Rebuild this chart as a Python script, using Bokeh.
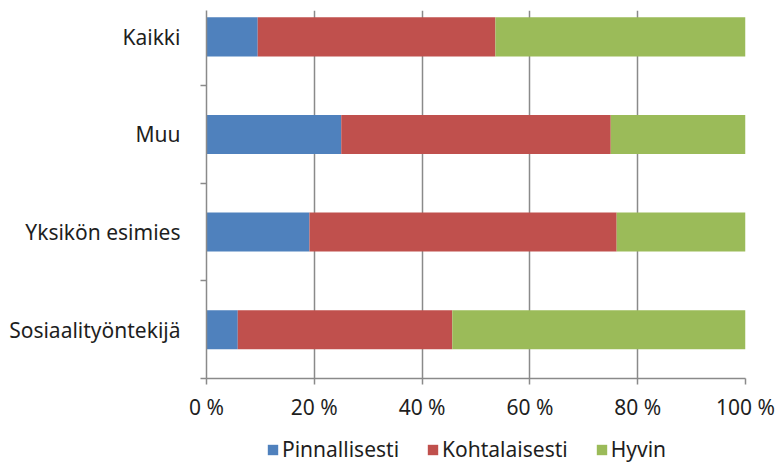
from bokeh.plotting import figure
from bokeh.layouts import column
from bokeh.models import (Range1d, FixedTicker, ColumnDataSource, Legend, LegendItem)
from bokeh.embed import file_html
from bokeh.resources import INLINE

categories = ["Sosiaalityöntekijä", "Yksikön esimies", "Muu", "Kaikki"]
series = ["Pinnallisesti", "Kohtalaisesti", "Hyvin"]
pinnallisesti = [5.8, 19.1, 25.0, 9.5]
kohtalaisesti = [39.8, 57.0, 50.0, 44.1]
hyvin = [54.4, 23.9, 25.0, 46.4]
x_ticks = [0, 20, 40, 60, 80, 100]
x_tick_labels = ["0 %", "20 %", "40 %", "60 %", "80 %", "100 %"]
colors = ["#4F81BD", "#C0504D", "#9BBB59"]

FONT = "Noto Sans"
FS = "21px"
GRAY = "#8a8a8a"
TXT = "#1e1e1e"

ypos = [i + 0.5 for i in range(len(categories))]
src = ColumnDataSource(dict(y=ypos, Pinnallisesti=pinnallisesti,
                            Kohtalaisesti=kohtalaisesti, Hyvin=hyvin))

p = figure(width=776, height=434, output_backend="svg", toolbar_location=None,
           x_range=Range1d(0, 100), y_range=Range1d(0, 3.77),
           min_border_left=206, min_border_right=31, min_border_top=10,
           min_border_bottom=56)
p.outline_line_color = None

p.hbar_stack(series, y="y", height=0.40, color=colors, line_color=None, source=src)

# x axis
p.xaxis.ticker = FixedTicker(ticks=x_ticks)
p.xaxis.major_label_overrides = {t: l for t, l in zip(x_ticks, x_tick_labels)}
p.xaxis.major_tick_out = 6
p.xaxis.major_tick_in = 0
p.xaxis.minor_tick_out = 0
p.xaxis.minor_tick_in = 0
p.xaxis.axis_line_color = GRAY
p.xaxis.axis_line_width = 1.5
p.xaxis.major_tick_line_color = GRAY
p.xaxis.major_tick_line_width = 1.5
p.xaxis.major_label_text_font = FONT
p.xaxis.major_label_text_font_size = FS
p.xaxis.major_label_text_color = TXT
p.xaxis.major_label_standoff = 8

# y axis
p.yaxis.ticker = FixedTicker(ticks=ypos, minor_ticks=[0, 1, 2, 3])
p.yaxis.major_label_overrides = {y: c for y, c in zip(ypos, categories)}
p.yaxis.major_tick_out = 0
p.yaxis.major_tick_in = 0
p.yaxis.minor_tick_out = 6
p.yaxis.minor_tick_in = 0
p.yaxis.minor_tick_line_color = GRAY
p.yaxis.minor_tick_line_width = 1.5
p.yaxis.axis_line_color = GRAY
p.yaxis.axis_line_width = 1.5
p.yaxis.major_label_text_font = FONT
p.yaxis.major_label_text_font_size = FS
p.yaxis.major_label_text_color = TXT
p.yaxis.major_label_standoff = 20

p.xgrid.grid_line_color = GRAY
p.xgrid.grid_line_width = 1.5
p.ygrid.grid_line_color = None

# legend strip (bars kept outside its visible range; only the legend shows)
lg = figure(width=776, height=30, output_backend="svg", toolbar_location=None,
            x_range=Range1d(1000, 1001), y_range=Range1d(1000, 1001),
            x_axis_type=None, y_axis_type=None,
            min_border_left=0, min_border_right=0, min_border_top=0, min_border_bottom=0)
lg.outline_line_color = None
lg.xgrid.visible = False
lg.ygrid.visible = False
lrs = lg.hbar_stack(series, y="y", height=0.4, color=colors, line_color=None, source=src)

legend = Legend(items=[LegendItem(label=s, renderers=[r]) for s, r in zip(series, lrs)],
                orientation="horizontal", location=(60, 0))
legend.label_text_font = FONT
legend.label_text_font_size = FS
legend.label_text_color = TXT
legend.glyph_width = 13
legend.glyph_height = 13
legend.label_height = 30
legend.label_standoff = 3
legend.spacing = 27
legend.border_line_color = None
legend.background_fill_alpha = 0
legend.padding = 0
legend.margin = 0
lg.add_layout(legend, "center")

layout = column(p, lg, spacing=0)
open("out.html", "w").write(file_html(layout, INLINE))
